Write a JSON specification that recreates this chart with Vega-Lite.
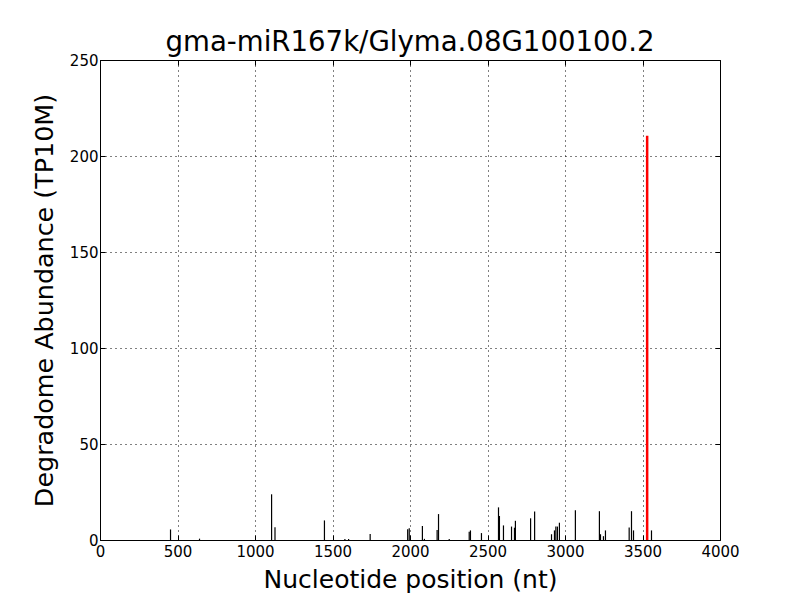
{
  "$schema": "https://vega.github.io/schema/vega-lite/v6.json",
  "autosize": "none",
  "width": 620,
  "height": 480,
  "padding": {"left": 100, "top": 60, "right": 80, "bottom": 60},
  "background": "white",
  "config": {
    "font": "DejaVu Sans",
    "view": {"stroke": "black", "strokeWidth": 1}
  },
  "title": {"text": "gma-miR167k/Glyma.08G100100.2", "fontSize": 27.6, "fontWeight": "normal", "font": "DejaVu Sans", "color": "black", "offset": -4},
  "datasets": {
    "reads": [
      {"pos": 455, "abundance": 5.5, "hit": "no"},
      {"pos": 642, "abundance": 0.7, "hit": "no"},
      {"pos": 1107, "abundance": 23.8, "hit": "no"},
      {"pos": 1129, "abundance": 6.6, "hit": "no"},
      {"pos": 1448, "abundance": 10.2, "hit": "no"},
      {"pos": 1580, "abundance": 0.5, "hit": "no"},
      {"pos": 1604, "abundance": 0.5, "hit": "no"},
      {"pos": 1743, "abundance": 3.1, "hit": "no"},
      {"pos": 1985, "abundance": 5.6, "hit": "no"},
      {"pos": 1995, "abundance": 6.1, "hit": "no"},
      {"pos": 2080, "abundance": 7.3, "hit": "no"},
      {"pos": 2093, "abundance": 0.6, "hit": "no"},
      {"pos": 2175, "abundance": 5.2, "hit": "no"},
      {"pos": 2184, "abundance": 13.5, "hit": "no"},
      {"pos": 2253, "abundance": 0.5, "hit": "no"},
      {"pos": 2382, "abundance": 4.3, "hit": "no"},
      {"pos": 2390, "abundance": 5.0, "hit": "no"},
      {"pos": 2461, "abundance": 3.6, "hit": "no"},
      {"pos": 2571, "abundance": 17.0, "hit": "no"},
      {"pos": 2577, "abundance": 12.5, "hit": "no"},
      {"pos": 2603, "abundance": 7.6, "hit": "no"},
      {"pos": 2655, "abundance": 7.0, "hit": "no"},
      {"pos": 2674, "abundance": 6.4, "hit": "no"},
      {"pos": 2680, "abundance": 10.0, "hit": "no"},
      {"pos": 2778, "abundance": 11.3, "hit": "no"},
      {"pos": 2804, "abundance": 14.9, "hit": "no"},
      {"pos": 2913, "abundance": 3.0, "hit": "no"},
      {"pos": 2932, "abundance": 5.0, "hit": "no"},
      {"pos": 2941, "abundance": 7.0, "hit": "no"},
      {"pos": 2951, "abundance": 7.0, "hit": "no"},
      {"pos": 2964, "abundance": 9.0, "hit": "no"},
      {"pos": 3067, "abundance": 15.5, "hit": "no"},
      {"pos": 3222, "abundance": 15.0, "hit": "no"},
      {"pos": 3229, "abundance": 3.0, "hit": "no"},
      {"pos": 3248, "abundance": 2.0, "hit": "no"},
      {"pos": 3261, "abundance": 5.0, "hit": "no"},
      {"pos": 3414, "abundance": 6.5, "hit": "no"},
      {"pos": 3429, "abundance": 15.0, "hit": "no"},
      {"pos": 3442, "abundance": 5.0, "hit": "no"},
      {"pos": 3558, "abundance": 5.0, "hit": "no"},
      {"pos": 3530, "abundance": 210.5, "hit": "yes"}
    ]
  },
  "layer": [
    {
      "data": {"name": "reads"},
      "mark": {"type": "rule", "strokeCap": "butt"},
      "encoding": {
        "x": {
          "field": "pos", "type": "quantitative",
          "scale": {"domain": [0, 4000], "nice": false, "zero": false},
          "axis": {
            "title": "Nucleotide position (nt)", "titleFontSize": 25, "titleFontWeight": "normal", "titleColor": "black", "titlePadding": 8,
            "values": [0, 500, 1000, 1500, 2000, 2500, 3000, 3500, 4000], "format": "d",
            "labelFontSize": 15, "labelColor": "black", "labelPadding": 9, "labelFlush": false,
            "tickSize": -5, "tickColor": "black", "domain": false,
            "grid": true, "gridColor": "black", "gridDash": [1, 4], "gridOpacity": 1, "gridWidth": 1
          }
        },
        "y": {
          "field": "abundance", "type": "quantitative",
          "scale": {"domain": [0, 250], "nice": false},
          "axis": {
            "title": "Degradome Abundance (TP10M)", "titleFontSize": 25.4, "titleFontWeight": "normal", "titleColor": "black", "titlePadding": 12,
            "values": [0, 50, 100, 150, 200, 250], "format": "d",
            "labelFontSize": 15, "labelColor": "black", "labelPadding": 7, "labelFlush": false,
            "tickSize": -5, "tickColor": "black", "domain": false,
            "grid": true, "gridColor": "black", "gridDash": [1, 4], "gridOpacity": 1, "gridWidth": 1
          }
        },
        "y2": {"datum": 0},
        "color": {"field": "hit", "type": "nominal", "scale": {"domain": ["no", "yes"], "range": ["black", "red"]}, "legend": null},
        "strokeWidth": {"field": "hit", "type": "nominal", "scale": {"domain": ["no", "yes"], "range": [1.2, 2.5]}, "legend": null}
      }
    },
    {
      "data": {"values": [{"pos": 0, "abundance": 0}]},
      "mark": {"type": "point", "opacity": 0},
      "encoding": {
        "x": {"field": "pos", "type": "quantitative", "scale": {"domain": [0, 4000], "nice": false, "zero": false},
          "axis": {"orient": "top", "title": null, "labels": false, "values": [0, 500, 1000, 1500, 2000, 2500, 3000, 3500, 4000], "tickSize": -5, "tickColor": "black", "domain": false, "grid": false}},
        "y": {"field": "abundance", "type": "quantitative", "scale": {"domain": [0, 250], "nice": false},
          "axis": {"orient": "right", "title": null, "labels": false, "values": [0, 50, 100, 150, 200, 250], "tickSize": -5, "tickColor": "black", "domain": false, "grid": false}}
      }
    }
  ],
  "resolve": {"axis": {"x": "independent", "y": "independent"}}
}
